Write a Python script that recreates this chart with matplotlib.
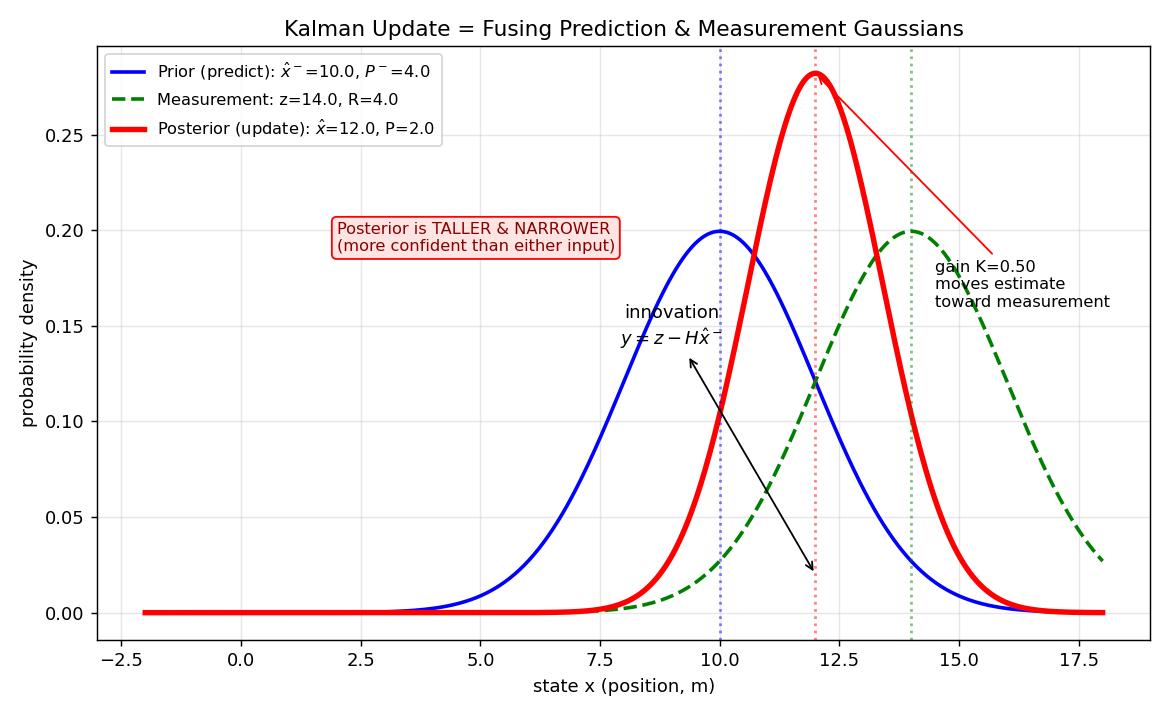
import numpy as np
import matplotlib
matplotlib.use("Agg")
import matplotlib.pyplot as plt

# Gaussian parameters
x_prior, P_prior = 10.0, 4.0
z_meas, R_meas = 14.0, 4.0
K_gain = 0.50
x_post, P_post = 12.0, 2.0
x_range = (-2.0, 18.0)
n_pts = 600

def gauss(x, mu, var):
    return np.exp(-0.5 * (x - mu) ** 2 / var) / np.sqrt(2 * np.pi * var)

xs = np.linspace(x_range[0], x_range[1], n_pts)
prior = gauss(xs, x_prior, P_prior)
meas = gauss(xs, z_meas, R_meas)
post = gauss(xs, x_post, P_post)

fig, ax = plt.subplots(figsize=(9.0, 5.5), dpi=130)

ax.plot(xs, prior, color='blue', lw=2,
        label=r'Prior (predict): $\hat{x}^-$=%.1f, $P^-$=%.1f' % (x_prior, P_prior))
ax.plot(xs, meas, color='green', lw=2, ls='--',
        label='Measurement: z=%.1f, R=%.1f' % (z_meas, R_meas))
ax.plot(xs, post, color='red', lw=3,
        label=r'Posterior (update): $\hat{x}$=%.1f, P=%.1f' % (x_post, P_post))

ax.axvline(x_prior, color='blue', ls=':', lw=1.5, alpha=0.5)
ax.axvline(z_meas, color='green', ls=':', lw=1.5, alpha=0.5)
ax.axvline(x_post, color='red', ls=':', lw=1.5, alpha=0.5)

ax.annotate('innovation\n' + r'$y = z - H\hat{x}^-$', xy=(x_post, 0.02),
            xytext=(9.0, 0.14), ha='center', fontsize=10,
            arrowprops=dict(arrowstyle='<->', color='black', lw=1))

peak = gauss(x_post, x_post, P_post)
ax.annotate('gain K=%.2f\nmoves estimate\ntoward measurement' % K_gain,
            xy=(x_post, peak), xytext=(14.5, 0.16), fontsize=9,
            arrowprops=dict(arrowstyle='->', color='red', lw=1))

ax.text(2.0, 0.196, 'Posterior is TALLER & NARROWER\n(more confident than either input)',
        ha='left', va='center', fontsize=9, color='darkred',
        bbox=dict(boxstyle='round,pad=0.3', fc='#ffe4e4', ec='red'))

ax.set_xlabel('state x (position, m)')
ax.set_ylabel('probability density')
ax.set_title('Kalman Update = Fusing Prediction & Measurement Gaussians')
ax.grid(True, alpha=0.3)
ax.legend(loc='upper left', fontsize=9, labelspacing=0.6)

fig.tight_layout()
fig.savefig('out.png', dpi=130)
